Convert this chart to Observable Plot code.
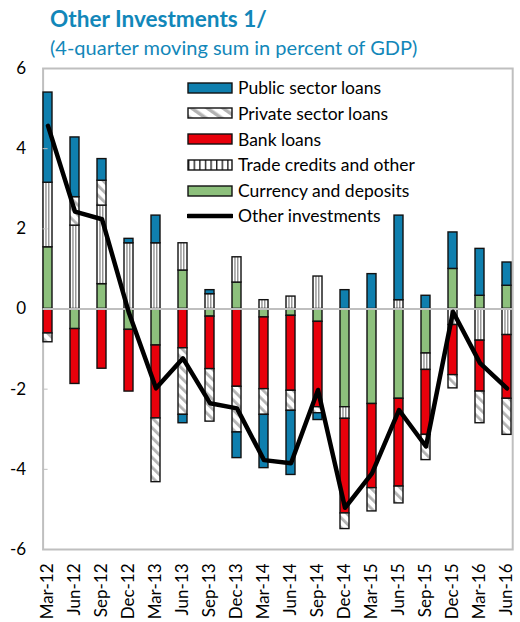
<!DOCTYPE html>
<html>
<head>
<meta charset="utf-8">
<script src="https://cdn.jsdelivr.net/npm/d3@7"></script>
<script src="https://cdn.jsdelivr.net/npm/@observablehq/plot@0.6"></script>
<style>
  body { margin: 0; background: #fff; }
  #wrap { position: relative; width: 520px; height: 622px; overflow: hidden; font-family: Lato, "Open Sans", sans-serif; }
  #head { height: 50px; position: relative; color: #1287b9; }
  #title { position: absolute; left: 50px; top: 6px; font-weight: bold; font-size: 22.6px; line-height: 26px; }
  #subtitle { position: absolute; left: 50px; top: 35px; font-size: 20px; line-height: 24px; }
  .lg-row { position: absolute; left: 187px; height: 20px; display: flex; align-items: center; }
  .lg-row span { margin-left: 5px; font-size: 17.5px; color: #000; white-space: nowrap; }
</style>
</head>
<body>
<div id="wrap">
  <div id="head">
    <div id="title">Other Investments 1/</div>
    <div id="subtitle">(4-quarter moving sum in percent of GDP)</div>
  </div>
  <div id="chart"></div>
  <div id="legend"></div>
</div>
<script>
const quarters = ["Mar-12","Jun-12","Sep-12","Dec-12","Mar-13","Jun-13","Sep-13","Dec-13","Mar-14","Jun-14","Sep-14","Dec-14","Mar-15","Jun-15","Sep-15","Dec-15","Mar-16","Jun-16"];
const currencyDeposits = [1.54,-0.50,0.62,-0.52,-0.91,0.96,-0.19,0.66,-0.21,-0.17,-0.32,-2.45,-2.37,-2.24,-1.11,1.00,0.33,0.58];
const tradeCredits     = [1.61,2.08,1.96,1.64,1.64,0.68,0.37,0.63,0.22,0.31,0.81,-0.29,0.00,0.22,-0.41,-0.40,-0.79,-0.65];
const bankLoans        = [-0.61,-1.37,-1.49,-1.54,-1.82,-0.98,-1.31,-1.94,-1.79,-1.87,-2.13,-2.36,-2.10,-2.19,-1.62,-1.25,-1.27,-1.59];
const privateLoans     = [-0.22,0.71,0.62,0.00,-1.59,-1.66,-1.31,-1.14,-0.64,-0.50,-0.15,-0.39,-0.58,-0.42,-0.63,-0.33,-0.79,-0.90];
const publicLoans      = [2.25,1.49,0.54,0.11,0.69,-0.21,0.10,-0.64,-1.33,-1.60,-0.17,0.47,0.87,2.11,0.33,0.91,1.17,0.58];
const otherInvestments = [4.57,2.43,2.24,-0.10,-1.98,-1.23,-2.35,-2.48,-3.77,-3.85,-2.02,-4.96,-4.10,-2.52,-3.43,-0.07,-1.35,-1.98];
const yTicks = [-6,-4,-2,0,2,4,6];

const seriesNames = ["Currency and deposits","Trade credits and other","Bank loans","Private sector loans","Public sector loans"];
const seriesValues = [currencyDeposits, tradeCredits, bankLoans, privateLoans, publicLoans];
const seriesFills = ["#8dc07c","url(#tradePat)","#e8000b","url(#privPat)","#0f7fae"];

const rows = [];
seriesNames.forEach((s, k) => quarters.forEach((q, i) => rows.push({q, s, v: seriesValues[k][i]})));
const lineRows = quarters.map((q, i) => ({q, v: otherInvestments[i]}));

const W = 520, H = 572;
const chart = Plot.plot({
  width: W, height: H,
  marginTop: 18, marginBottom: 73, marginLeft: 42.6, marginRight: 7.8,
  style: {fontFamily: "Lato, 'Open Sans', sans-serif", fontSize: "17px", color: "#000", background: "#fff", overflow: "visible"},
  x: {type: "band", domain: quarters, paddingInner: 0.66, paddingOuter: 0, label: null},
  y: {domain: [-6, 6], label: null},
  color: {domain: seriesNames, range: seriesFills},
  marks: [
    Plot.frame({stroke: "#bfbfbf", strokeWidth: 2}),
    Plot.barY(rows, {x: "q", y: "v", z: "s", fill: "s", stroke: "#111", strokeWidth: 1.4}),
    Plot.ruleY([0], {stroke: "#bfbfbf", strokeWidth: 2}),
    Plot.axisY({ticks: yTicks, tickSize: -5, tickPadding: 22, stroke: "#bfbfbf", fill: "#000", fontSize: 17, tickFormat: d => String(d)}),
    Plot.axisX({tickRotate: -90, tickSize: 0, tickPadding: 14, fontSize: 17, fill: "#000"}),
    Plot.line(lineRows, {x: "q", y: "v", stroke: "#000", strokeWidth: 4.5, strokeLinejoin: "round"})
  ]
});

const defs = d3.select(chart).insert("defs", ":first-child");
const tp = defs.append("pattern").attr("id", "tradePat").attr("patternUnits", "objectBoundingBox")
  .attr("patternContentUnits", "objectBoundingBox").attr("width", 1).attr("height", 1);
tp.append("rect").attr("width", 1).attr("height", 1).attr("fill", "#fff");
tp.append("rect").attr("x", 0.28).attr("width", 0.1).attr("height", 1).attr("fill", "#555");
tp.append("rect").attr("x", 0.6).attr("width", 0.1).attr("height", 1).attr("fill", "#555");
const pp = defs.append("pattern").attr("id", "privPat").attr("patternUnits", "userSpaceOnUse")
  .attr("width", 7).attr("height", 7).attr("patternTransform", "rotate(-45)");
pp.append("rect").attr("width", 7).attr("height", 7).attr("fill", "#fff");
pp.append("rect").attr("width", 2.8).attr("height", 7).attr("fill", "#b3b3b3");

document.getElementById("chart").appendChild(chart);

// Legend overlay
const legendItems = [
  {name: "Public sector loans", kind: "solid", fill: "#0f7fae"},
  {name: "Private sector loans", kind: "priv"},
  {name: "Bank loans", kind: "solid", fill: "#e8000b"},
  {name: "Trade credits and other", kind: "trade"},
  {name: "Currency and deposits", kind: "solid", fill: "#8dc07c"},
  {name: "Other investments", kind: "line"}
];
const rowCenters = [87.7, 113.3, 139, 164.5, 190.5, 215.5];
const lg = d3.select("#legend");
legendItems.forEach((it, i) => {
  const row = lg.append("div").attr("class", "lg-row").style("top", (rowCenters[i] - 10) + "px");
  const sv = row.append("svg").attr("width", 46).attr("height", 12);
  if (it.kind === "line") {
    sv.append("line").attr("x1", 1).attr("x2", 45).attr("y1", 6).attr("y2", 6).attr("stroke", "#000").attr("stroke-width", 4.5).attr("stroke-linecap", "round");
  } else {
    if (it.kind === "priv") {
      const p = sv.append("defs").append("pattern").attr("id", "lgPriv").attr("patternUnits", "userSpaceOnUse")
        .attr("width", 9).attr("height", 9).attr("patternTransform", "rotate(-55)");
      p.append("rect").attr("width", 9).attr("height", 9).attr("fill", "#fff");
      p.append("rect").attr("width", 3.5).attr("height", 9).attr("fill", "#b3b3b3");
    }
    if (it.kind === "trade") {
      const p = sv.append("defs").append("pattern").attr("id", "lgTrade").attr("patternUnits", "userSpaceOnUse")
        .attr("width", 5.6).attr("height", 12).attr("x", 1);
      p.append("rect").attr("width", 5.6).attr("height", 12).attr("fill", "#fff");
      p.append("rect").attr("width", 1.4).attr("height", 12).attr("fill", "#222");
    }
    const fill = it.kind === "solid" ? it.fill : it.kind === "priv" ? "url(#lgPriv)" : "url(#lgTrade)";
    sv.append("rect").attr("x", 1).attr("y", 1).attr("width", 44).attr("height", 10).attr("fill", fill).attr("stroke", "#111").attr("stroke-width", 1.4);
  }
  row.append("span").text(it.name);
});
</script>
</body>
</html>
